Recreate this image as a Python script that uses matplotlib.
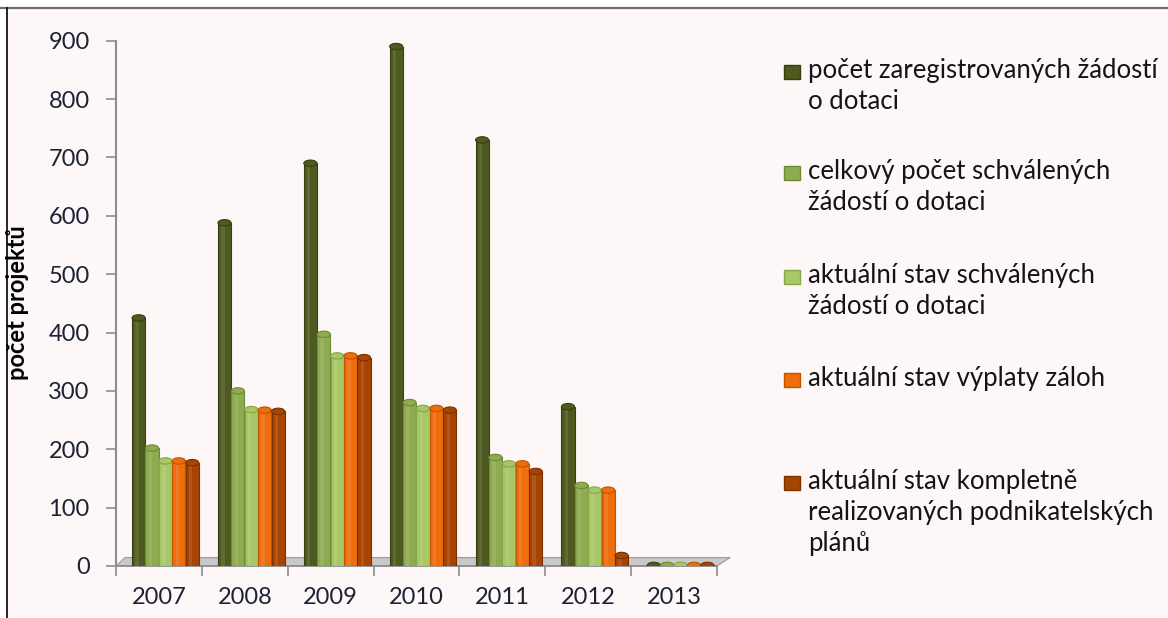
import matplotlib.pyplot as plt
import numpy as np
from matplotlib.patches import Rectangle, Ellipse, Polygon
from matplotlib.lines import Line2D

W, H = 1168, 618

years = ['2007', '2008', '2009', '2010', '2011', '2012', '2013']
registered = [425, 588, 690, 890, 730, 273, 1]
approved_total = [202, 300, 397, 280, 186, 138, 1]
approved_now = [180, 268, 360, 270, 175, 130, 1]
advances = [180, 267, 360, 270, 175, 130, 1]
completed = [177, 265, 357, 267, 162, 18, 1]

labels = ['počet zaregistrovaných žádostí\no dotaci',
          'celkový počet schválených\nžádostí o dotaci',
          'aktuální stav schválených\nžádostí o dotaci',
          'aktuální stav výplaty záloh',
          'aktuální stav kompletně\nrealizovaných podnikatelských\nplánů']
colors = ['#4e5a1f', '#8fab52', '#a8c766', '#ee6d0c', '#a84402']
edges = ['#36400f', '#6d8a36', '#86a548', '#c05500', '#7a3000']
series = [registered, approved_total, approved_now, advances, completed]

plt.rcParams['font.family'] = ['Lato', 'DejaVu Sans']
txt_col = '#1c2236'

fig = plt.figure(figsize=(W / 100, H / 100), dpi=100)
fig.patch.set_facecolor('white')

# pozadí a rámeček
fig.add_artist(Rectangle((7 / W, 0), 1 - 7 / W, 1 - 8 / H, transform=fig.transFigure,
                         facecolor='#fdf8f7', edgecolor='none', zorder=-5))
fig.add_artist(Line2D([0, 1], [1 - 8 / H, 1 - 8 / H], transform=fig.transFigure,
                      color='#6e6e6e', lw=1.6))
fig.add_artist(Line2D([7 / W, 7 / W], [0, 1 - 8 / H], transform=fig.transFigure,
                      color='black', lw=1.2))

ax = fig.add_axes([116 / W, 1 - 566 / H, (717 - 116) / W, (566 - 40.7) / H])
ax.set_facecolor('none')
ax.set_xlim(0, 7)
ax.set_ylim(0, 900)

# podlaha (3D)
floor = Polygon([(0, 0), (1, 0), (1.022, 0.016), (0.015, 0.016)], closed=True,
                transform=ax.transAxes, facecolor='#c9c9c9', edgecolor='#9a9a9a',
                lw=0.8, zorder=1, clip_on=False)
ax.add_patch(floor)

bw = 0.156
x = np.arange(len(years))
for i, (vals, c, ec) in enumerate(zip(series, colors, edges)):
    pos = x + 0.264 + i * bw
    ax.bar(pos, vals, width=bw * 0.98, color=c, edgecolor=ec, lw=0.8, zorder=3)
    # světlý pruh pro efekt válce
    ax.bar(pos - bw * 0.12, vals, width=bw * 0.25, color='white', alpha=0.10,
           lw=0, zorder=4)
    for p, v in zip(pos, vals):
        ax.add_patch(Ellipse((p, v), bw * 0.98, 11, facecolor=c, edgecolor=ec,
                             lw=0.8, zorder=5))

ax.spines['top'].set_visible(False)
ax.spines['right'].set_visible(False)
ax.spines['left'].set_color('#8c8c8c')
ax.spines['bottom'].set_color('#8c8c8c')
ax.spines['left'].set_linewidth(1.5)
ax.spines['bottom'].set_linewidth(1.2)

ax.set_yticks(np.arange(0, 901, 100))
ax.tick_params(axis='y', length=7, width=1.2, color='#8c8c8c', pad=12,
               labelsize=17, labelcolor=txt_col)
ax.set_xticks(np.arange(0, 8))
ax.set_xticklabels([])
ax.tick_params(axis='x', which='major', length=7, width=1.2, color='#8c8c8c')
ax.set_xticks(x + 0.5, minor=True)
ax.set_xticklabels(years, minor=True)
ax.tick_params(axis='x', which='minor', length=0, pad=15, labelsize=17,
               labelcolor=txt_col)

fig.text(18 / W, 1 - 303 / H, 'počet projektů', rotation=90, ha='center',
         va='center', fontsize=17, fontweight='bold', color='black')

# legenda
first_lines = [72, 173, 277, 380, 483]
for lab, c, ec, yl in zip(labels, colors, edges, first_lines):
    fig.add_artist(Rectangle((784 / W, 1 - (yl + 7) / H), 16 / W, 14 / H,
                             transform=fig.transFigure, facecolor=c,
                             edgecolor=ec, lw=1))
    fig.text(808 / W, 1 - (yl - 14) / H, lab, ha='left', va='top',
             fontsize=18.5, color='#141414', linespacing=1.3)

fig.savefig('out.png', dpi=100)
